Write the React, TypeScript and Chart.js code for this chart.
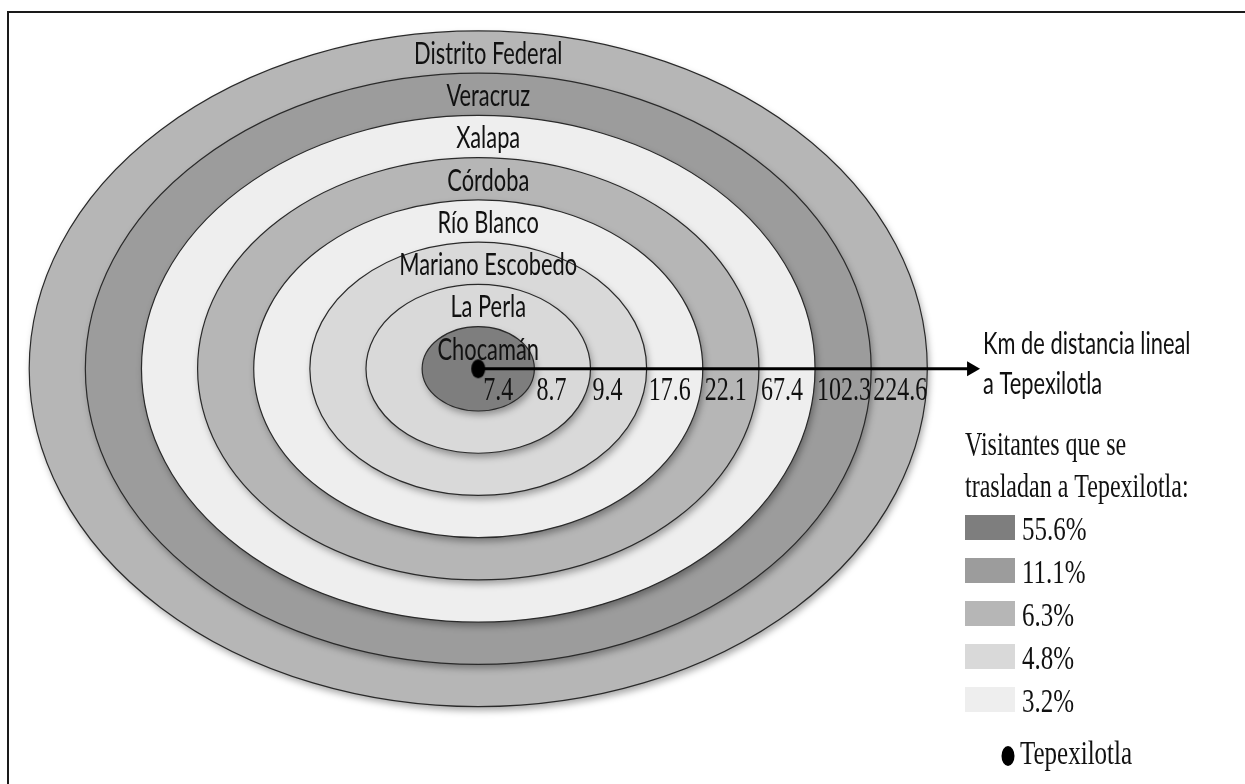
import React, { useEffect, useRef } from 'react';
import { Chart, registerables } from 'chart.js';

Chart.register(...registerables);

// Rings from the centre outward
const places = ['Chocamán', 'La Perla', 'Mariano Escobedo', 'Río Blanco', 'Córdoba', 'Xalapa', 'Veracruz', 'Distrito Federal'];
const distancesKm = ['7.4', '8.7', '9.4', '17.6', '22.1', '67.4', '102.3', '224.6'];
const visitorShare = ['55.6%', '4.8%', '4.8%', '3.2%', '6.3%', '3.2%', '11.1%', '6.3%'];

// Legend
const legendLabels = ['55.6%', '11.1%', '6.3%', '4.8%', '3.2%'];
const legendColors = ['#7e7e7e', '#9c9c9c', '#b6b6b6', '#d9d9d9', '#eeeeee'];
const axisTitle = ['Km de distancia lineal', 'a Tepexilotla'];
const legendTitle = ['Visitantes que se', 'trasladan a Tepexilotla:'];
const originLabel = 'Tepexilotla';
const arrowTip = 8.94;

const SANS = 'Lato, "Open Sans", "DejaVu Sans", sans-serif';
const SERIF = '"Liberation Serif", "DejaVu Serif", serif';

function stretchText(ctx: CanvasRenderingContext2D, text: string, x: number, y: number, font: string, sx: number, sy: number, align: CanvasTextAlign) {
  ctx.save();
  ctx.font = font;
  ctx.textAlign = align;
  ctx.textBaseline = 'alphabetic';
  ctx.fillStyle = '#111';
  ctx.translate(x, y);
  ctx.scale(sx, sy);
  ctx.fillText(text, 0, 0);
  ctx.restore();
}

const ringPlugin = {
  id: 'rings',
  beforeDatasetsDraw(chart: any) {
    const ctx: CanvasRenderingContext2D = chart.ctx;
    const xs = chart.scales.x;
    const ys = chart.scales.y;
    const cx = xs.getPixelForValue(0);
    const cy = ys.getPixelForValue(0);
    for (let i = places.length - 1; i >= 0; i--) {
      const k = i + 1;
      const rx = xs.getPixelForValue(k) - cx;
      const ry = cy - ys.getPixelForValue(k);
      const color = legendColors[legendLabels.indexOf(visitorShare[i])];
      ctx.save();
      ctx.beginPath();
      ctx.ellipse(cx, cy, rx, ry, 0, 0, Math.PI * 2);
      ctx.shadowColor = 'rgba(0,0,0,0.35)';
      ctx.shadowBlur = 7;
      ctx.shadowOffsetX = 2;
      ctx.shadowOffsetY = 4;
      ctx.fillStyle = color;
      ctx.fill();
      ctx.restore();
      ctx.save();
      ctx.beginPath();
      ctx.ellipse(cx, cy, rx, ry, 0, 0, Math.PI * 2);
      ctx.strokeStyle = '#2a2a2a';
      ctx.lineWidth = 1.2;
      ctx.stroke();
      ctx.restore();
    }
    // place names
    for (let i = 0; i < places.length; i++) {
      const k = i + 1;
      const top = ys.getPixelForValue(k);
      stretchText(ctx, places[i], cx + 10, top + 33, '26px ' + SANS, 0.84, 1.2, 'center');
    }
  },
  afterDatasetsDraw(chart: any) {
    const ctx: CanvasRenderingContext2D = chart.ctx;
    const xs = chart.scales.x;
    const ys = chart.scales.y;
    const cy = ys.getPixelForValue(0);
    // arrow head
    const tip = xs.getPixelForValue(arrowTip);
    ctx.save();
    ctx.fillStyle = '#000';
    ctx.beginPath();
    ctx.moveTo(tip, cy);
    ctx.lineTo(tip - 13, cy - 7.5);
    ctx.lineTo(tip - 13, cy + 7.5);
    ctx.closePath();
    ctx.fill();
    ctx.restore();
    // distance labels
    for (let i = 0; i < distancesKm.length; i++) {
      const x = xs.getPixelForValue(i) + (i === 0 ? 5 : 2);
      stretchText(ctx, distancesKm[i], x, cy + 31, '24px ' + SERIF, 1, 1.4, 'left');
    }
  },
  afterDraw(chart: any) {
    const ctx: CanvasRenderingContext2D = chart.ctx;
    const xs = chart.scales.x;
    const ys = chart.scales.y;
    const cy = ys.getPixelForValue(0);
    const tip = xs.getPixelForValue(arrowTip);
    // axis title
    stretchText(ctx, axisTitle[0], tip + 3, cy - 15, '26px ' + SANS, 0.84, 1.2, 'left');
    stretchText(ctx, axisTitle[1], tip + 3, cy + 25, '26px ' + SANS, 0.84, 1.2, 'left');
    // legend
    const lx = 965;
    stretchText(ctx, legendTitle[0], lx, 455, '24px ' + SERIF, 1, 1.38, 'left');
    stretchText(ctx, legendTitle[1], lx, 497, '24px ' + SERIF, 1, 1.38, 'left');
    for (let i = 0; i < legendLabels.length; i++) {
      const base = 540 + i * 43;
      ctx.save();
      ctx.fillStyle = legendColors[i];
      ctx.fillRect(lx, base - 25, 50, 25);
      ctx.restore();
      stretchText(ctx, legendLabels[i], 1022, base, '25px ' + SERIF, 1, 1.36, 'left');
    }
    ctx.save();
    ctx.fillStyle = '#000';
    ctx.beginPath();
    ctx.ellipse(1008, 756, 6.5, 10, 0, 0, Math.PI * 2);
    ctx.fill();
    ctx.restore();
    stretchText(ctx, originLabel, 1020, 764, '25px ' + SERIF, 1, 1.36, 'left');
    // frame
    ctx.save();
    ctx.strokeStyle = '#1a1a1a';
    ctx.lineWidth = 2;
    ctx.beginPath();
    ctx.moveTo(8, chart.height + 5);
    ctx.lineTo(8, 12);
    ctx.lineTo(chart.width + 5, 12);
    ctx.stroke();
    ctx.restore();
  },
};

function makeDot(): HTMLCanvasElement {
  const c = document.createElement('canvas');
  c.width = 16;
  c.height = 21;
  const g = c.getContext('2d')!;
  g.fillStyle = '#000';
  g.beginPath();
  g.ellipse(8, 10.5, 7, 9.5, 0, 0, Math.PI * 2);
  g.fill();
  return c;
}

export default function App() {
  const ref = useRef<HTMLCanvasElement | null>(null);
  useEffect(() => {
    document.body.style.margin = '0';
    document.body.style.background = '#fff';
    const canvas = ref.current!;
    const chart = new Chart(canvas, {
      type: 'scatter',
      data: {
        datasets: [
          {
            label: originLabel,
            data: [{ x: 0, y: 0 }],
            pointStyle: makeDot() as any,
            pointRadius: 8,
            order: 0,
          } as any,
          {
            type: 'line',
            label: 'eje',
            data: [{ x: 0, y: 0 }, { x: arrowTip - 0.2, y: 0 }],
            borderColor: '#000',
            borderWidth: 3,
            pointRadius: 0,
            order: 1,
          } as any,
        ],
      },
      options: {
        animation: false,
        responsive: false,
        maintainAspectRatio: false,
        layout: { padding: 0 },
        plugins: { legend: { display: false }, tooltip: { enabled: false } },
        events: [],
        scales: {
          x: { type: 'linear', min: -8.36, max: 13.5, display: false },
          y: { type: 'linear', min: -9.62, max: 8.52, display: false },
        },
      },
      plugins: [ringPlugin],
    });
    return () => chart.destroy();
  }, []);
  return (
    <div style={{ width: 1245, height: 784, background: '#fff' }}>
      <canvas ref={ref} width={1245} height={784} style={{ display: 'block' }} />
    </div>
  );
}
